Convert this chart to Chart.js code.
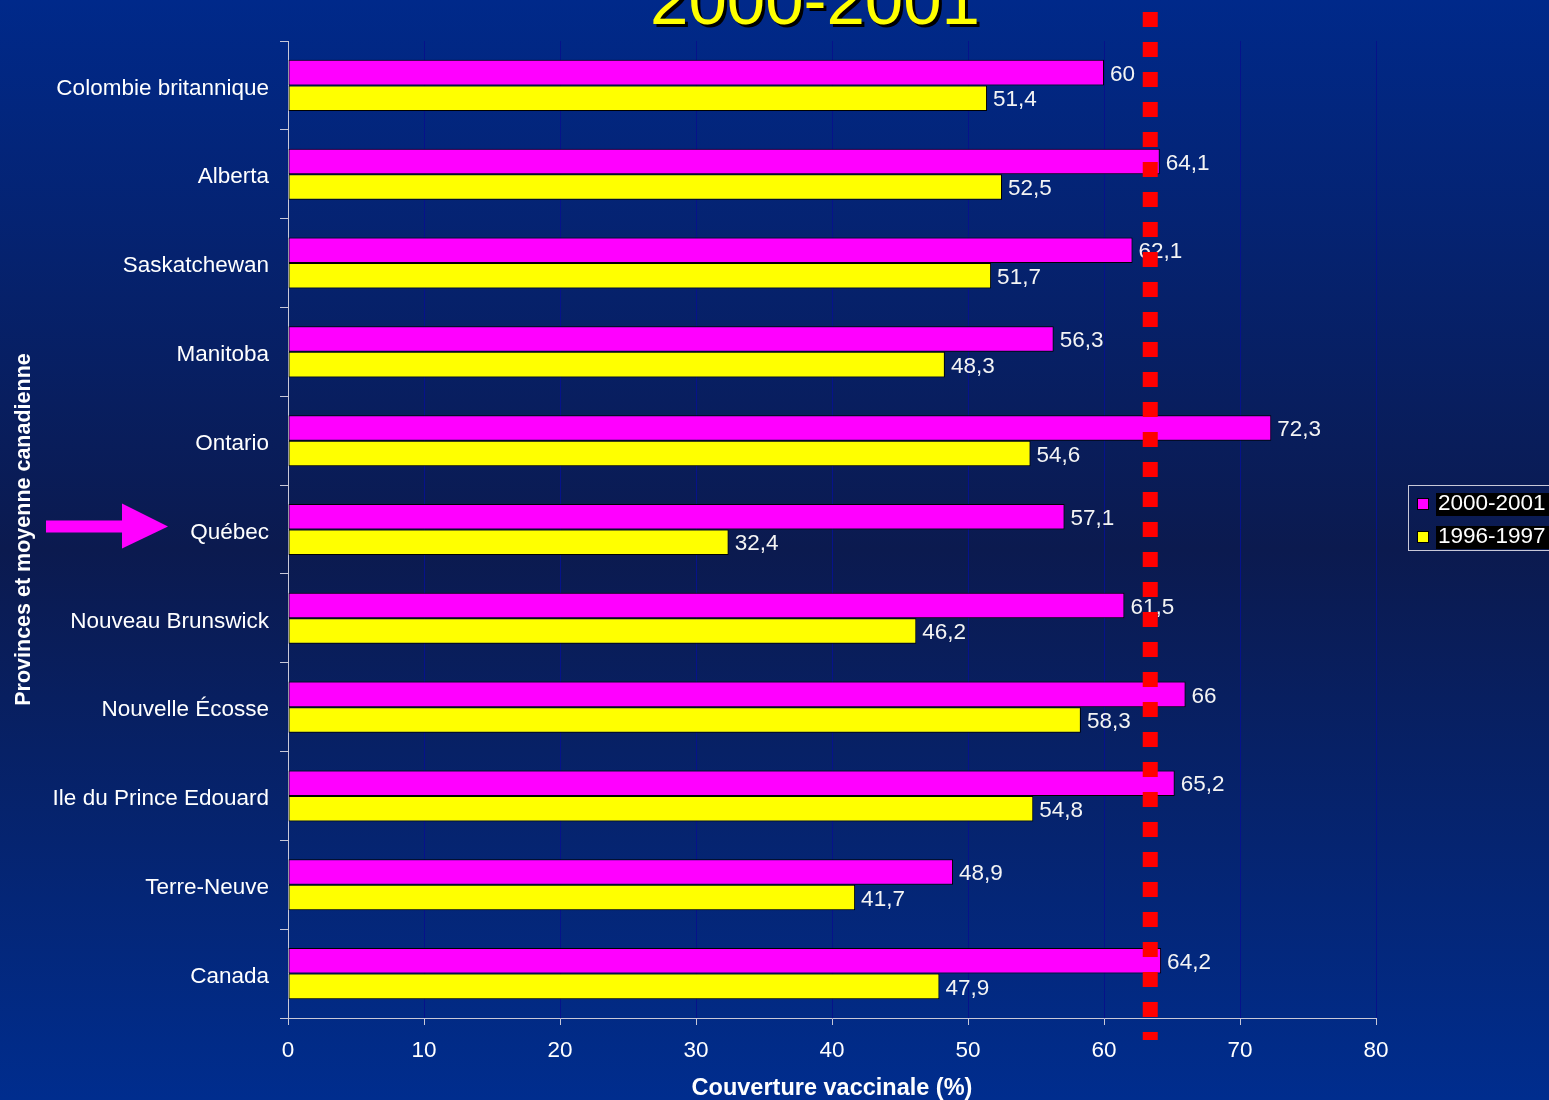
<!DOCTYPE html>
<html>
<head>
<meta charset="utf-8">
<script src="https://cdn.jsdelivr.net/npm/chart.js@4.4.1/dist/chart.umd.min.js"></script>
<style>
  html, body { margin: 0; padding: 0; background: #0b1a4f; }
  #wrap { width: 1549px; height: 1100px; position: relative; }
</style>
</head>
<body>
<div id="wrap"><canvas id="myChart" width="1549" height="1100"></canvas></div>
<script>
/*----- data -----*/
const provinces = [
    'Colombie britannique', 'Alberta', 'Saskatchewan', 'Manitoba', 'Ontario', 'Québec',
    'Nouveau Brunswick', 'Nouvelle Écosse', 'Ile du Prince Edouard', 'Terre-Neuve', 'Canada'
];
const coverage2000 = [60, 64.1, 62.1, 56.3, 72.3, 57.1, 61.5, 66, 65.2, 48.9, 64.2];
const coverage1996 = [51.4, 52.5, 51.7, 48.3, 54.6, 32.4, 46.2, 58.3, 54.8, 41.7, 47.9];
const seriesLabels = ['2000-2001', '1996-1997'];
const xTicks = [0, 10, 20, 30, 40, 50, 60, 70, 80];
const targetLine = 63.4;
const chartTitle = '2000-2001';
const highlighted = 'Québec';

const FONT = 'Arial, "Liberation Sans", sans-serif';
const MAGENTA = '#ff00ff';
const YELLOW = '#ffff00';

function frNumber(v) {
    return String(v).replace('.', ',');
}

/*----- plugins -----*/
const background = {
    id: 'background',
    beforeDraw(chart) {
        const ctx = chart.ctx;
        const g = ctx.createLinearGradient(0, 0, 0, chart.height);
        g.addColorStop(0, '#00298a');
        g.addColorStop(0.5, '#0b1a4f');
        g.addColorStop(1, '#002d8e');
        ctx.save();
        ctx.fillStyle = g;
        ctx.fillRect(0, 0, chart.width, chart.height);
        ctx.restore();
    }
};

const extras = {
    id: 'extras',
    afterDatasetsDraw(chart) {
        const ctx = chart.ctx;
        ctx.save();
        // value labels
        ctx.font = '22.5px ' + FONT;
        ctx.fillStyle = '#f4f4f4';
        ctx.textBaseline = 'middle';
        ctx.textAlign = 'left';
        chart.data.datasets.forEach((ds, i) => {
            chart.getDatasetMeta(i).data.forEach((bar, j) => {
                ctx.fillText(frNumber(ds.data[j]), bar.x + 6, bar.y + 2);
            });
        });

        // red dashed reference line
        const x = chart.scales.x.getPixelForValue(targetLine);
        ctx.strokeStyle = '#ff0000';
        ctx.lineWidth = 15;
        ctx.setLineDash([15, 15]);
        ctx.beginPath();
        ctx.moveTo(x, 12);
        ctx.lineTo(x, 1040);
        ctx.stroke();
        ctx.setLineDash([]);
        ctx.restore();
    },
    afterDraw(chart) {
        const ctx = chart.ctx;
        ctx.save();

        // title (cut off at top)
        ctx.font = '69px ' + FONT;
        ctx.textAlign = 'center';
        ctx.textBaseline = 'alphabetic';
        ctx.fillStyle = '#000000';
        ctx.fillText(chartTitle, 818, 27);
        ctx.fillStyle = YELLOW;
        ctx.fillText(chartTitle, 815, 24);

        // arrow pointing at Québec
        const yq = chart.scales.y.getPixelForValue(provinces.indexOf(highlighted)) - 3;
        ctx.fillStyle = MAGENTA;
        ctx.fillRect(46, yq - 6, 78, 12);
        ctx.beginPath();
        ctx.moveTo(122, yq - 23);
        ctx.lineTo(168, yq);
        ctx.lineTo(122, yq + 22);
        ctx.closePath();
        ctx.fill();

        // legend
        ctx.strokeStyle = '#c8c8d8';
        ctx.lineWidth = 1;
        ctx.strokeRect(1408.5, 485.5, 150, 65);
        ctx.font = '22.5px ' + FONT;
        ctx.textAlign = 'left';
        ctx.textBaseline = 'middle';
        chart.data.datasets.forEach((ds, i) => {
            const cy = 504 + i * 33;
            ctx.fillStyle = '#000000';
            ctx.fillRect(1436, cy - 11, 113, 23);
            ctx.fillStyle = ds.backgroundColor;
            ctx.fillRect(1417, cy - 6, 12, 12);
            ctx.strokeStyle = '#000000';
            ctx.strokeRect(1417.5, cy - 5.5, 11, 11);
            ctx.fillStyle = '#ffffff';
            ctx.fillText(ds.label, 1438, cy);
        });
        ctx.restore();
    }
};

/*----- chart -----*/
const ctx = document.getElementById('myChart').getContext('2d');
const myChart = new Chart(ctx, {
    type: 'bar',
    data: {
        labels: provinces,
        datasets: [
            {
                label: seriesLabels[0],
                data: coverage2000,
                backgroundColor: MAGENTA,
                borderColor: '#000000',
                borderWidth: 1,
                borderSkipped: false,
                categoryPercentage: 0.575,
                barPercentage: 1
            },
            {
                label: seriesLabels[1],
                data: coverage1996,
                backgroundColor: YELLOW,
                borderColor: '#000000',
                borderWidth: 1,
                borderSkipped: false,
                categoryPercentage: 0.575,
                barPercentage: 1
            }
        ]
    },
    options: {
        indexAxis: 'y',
        responsive: false,
        animation: false,
        devicePixelRatio: 1,
        layout: { padding: { left: 0, top: 41, right: 173, bottom: 0 } },
        plugins: {
            legend: { display: false },
            title: { display: false },
            tooltip: { enabled: false }
        },
        scales: {
            x: {
                type: 'linear',
                min: 0,
                max: 80,
                afterBuildTicks(scale) {
                    scale.ticks = xTicks.map(v => ({ value: v }));
                },
                afterFit(scale) { scale.height = 82; },
                grid: {
                    color: '#06128a',
                    borderDash: [6, 6],
                    tickColor: '#c8c8d8',
                    tickLength: 7,
                    tickBorderDash: []
                },
                border: { color: '#c8c8d8', width: 1 },
                ticks: {
                    color: '#ffffff',
                    padding: 12,
                    font: { family: FONT, size: 22.5 }
                },
                title: {
                    display: true,
                    text: 'Couverture vaccinale (%)',
                    color: '#ffffff',
                    font: { family: FONT, size: 23.5, weight: 'bold', lineHeight: 0.95 },
                    padding: { top: 0, bottom: 0 }
                }
            },
            y: {
                afterFit(scale) { scale.width = 288; },
                grid: {
                    drawOnChartArea: false,
                    color: '#c8c8d8',
                    tickLength: 8,
                    offset: true
                },
                border: { color: '#c8c8d8', width: 1 },
                ticks: {
                    color: '#ffffff',
                    padding: 11,
                    labelOffset: 3,
                    font: { family: FONT, size: 22.5 }
                },
                title: {
                    display: true,
                    text: 'Provinces et moyenne canadienne',
                    color: '#ffffff',
                    font: { family: FONT, size: 21.5, weight: 'bold' },
                    padding: { top: 11, bottom: 0 }
                }
            }
        }
    },
    plugins: [background, extras]
});
</script>
</body>
</html>
